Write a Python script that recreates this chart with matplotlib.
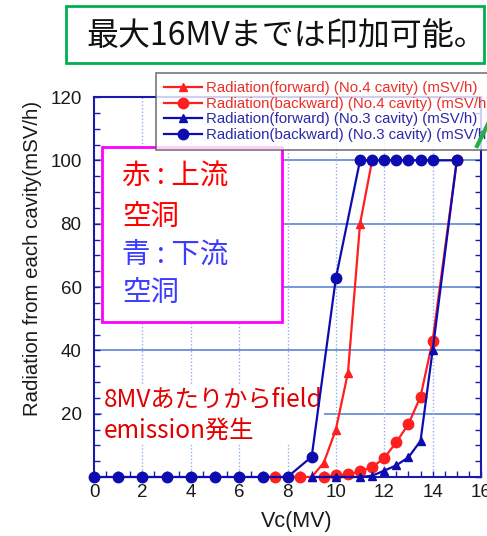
import matplotlib
matplotlib.use("Agg")
import matplotlib.pyplot as plt
from matplotlib.patches import Rectangle
from matplotlib.lines import Line2D
from matplotlib.ticker import MultipleLocator, FixedLocator

plt.rcParams['font.family'] = ['Liberation Sans', 'DejaVu Sans']
JP = ['Noto Sans CJK JP', 'DejaVu Sans']

# ---------------- data ----------------
red_fwd_x = [9, 9.5, 10, 10.5, 11, 11.5]
red_fwd_y = [0, 4.5, 15, 33, 80, 100]

red_back_x = [7.5, 8.5, 9.5, 10, 10.5, 11, 11.5, 12, 12.5, 13, 13.5, 14, 15]
red_back_y = [0, 0, 0, 0.5, 0.8, 1.8, 3.1, 6, 11, 16.7, 25.4, 43, 100]

blue_fwd_x = [9, 10, 11, 11.5, 12, 12.5, 13, 13.5, 14, 15]
blue_fwd_y = [0, 0, 0, 0.4, 2, 3.7, 6.2, 11.4, 40, 100]

blue_back_x = [0, 1, 2, 3, 4, 5, 6, 7, 8, 9, 10, 11, 11.5, 12, 12.5, 13, 13.5, 14, 15]
blue_back_y = [0, 0, 0, 0, 0, 0, 0, 0, 0, 6.4, 62.8, 100, 100, 100, 100, 100, 100, 100, 100]

labels = ["Radiation(forward) (No.4 cavity) (mSV/h)",
          "Radiation(backward) (No.4 cavity) (mSV/h)",
          "Radiation(forward) (No.3 cavity) (mSV/h)",
          "Radiation(backward) (No.3 cavity) (mSV/h)"]

x_ticks = [0, 2, 4, 6, 8, 10, 12, 14, 16]
y_ticks = [20, 40, 60, 80, 100, 120]

title_text = "最大16MVまでは印加可能。"
box_lines = ["赤 : 上流", "空洞", "青 : 下流", "空洞"]
note_text = "8MVあたりからfield\nemission発生"

# ---------------- figure ----------------
W, H = 487, 536
fig = plt.figure(figsize=(W / 100, H / 100), dpi=100)
fig.patch.set_facecolor('white')

def fx(px):
    return px / W

def fy(py):
    return 1 - py / H

ax = fig.add_axes([fx(94), fy(477), fx(481) - fx(94), fy(97) - fy(477)])

RED = '#ff1f1f'
BLUE = '#0c0cb0'

l1, = ax.plot(red_fwd_x, red_fwd_y, color=RED, lw=1.6, marker='^', ms=6, clip_on=False, zorder=3)
l2, = ax.plot(red_back_x, red_back_y, color=RED, lw=1.6, marker='o', ms=7.5, clip_on=False, zorder=3)
l3, = ax.plot(blue_fwd_x, blue_fwd_y, color=BLUE, lw=1.6, marker='^', ms=6, clip_on=False, zorder=4)
l4, = ax.plot(blue_back_x, blue_back_y, color=BLUE, lw=1.6, marker='o', ms=7.5, clip_on=False, zorder=4)

ax.set_xlim(0, 16)
ax.set_ylim(0, 120)
ax.xaxis.set_major_locator(FixedLocator(x_ticks))
ax.xaxis.set_minor_locator(MultipleLocator(0.5))
ax.yaxis.set_major_locator(FixedLocator(y_ticks))
ax.yaxis.set_minor_locator(MultipleLocator(5))

SP = '#1a1aa8'
for s in ax.spines.values():
    s.set_color(SP)
    s.set_linewidth(1.5)

ax.tick_params(axis='both', which='both', direction='in', color=SP, width=1,
               labelsize=13.5, labelcolor='#1a1a1a')
ax.tick_params(axis='y', which='both', left=True, right=True, pad=9)
ax.tick_params(axis='x', which='both', bottom=True, top=False, pad=5)
ax.tick_params(which='major', length=4)
ax.tick_params(which='minor', length=4)

# grids
for yv in [20, 40, 60, 80, 100]:
    ax.axhline(yv, color='#5f86d2', lw=1.2, zorder=0.5)
for xv in [2, 4, 6, 8, 10, 12, 14]:
    ax.axvline(xv, color='#93afe0', lw=1.0, ls=(0, (1, 1.5)), zorder=0.5)

ax.set_ylabel("Radiation from each cavity(mSV/h)", fontsize=14.7, color='#1a1a1a')
ax.yaxis.set_label_coords(-0.135, 0.575)
ax.set_xlabel("Vc(MV)", fontsize=15.5, color='#1a1a1a')
ax.xaxis.set_label_coords(0.525, -0.09)

# red note inside axes
ax.text(0.4, 19.6, note_text, fontsize=17.5, color='#e00000', family=JP,
        ha='left', va='center', linespacing=1.3, zorder=1.5,
        bbox=dict(facecolor='white', edgecolor='none', pad=1))

# legend
leg = fig.legend([l1, l2, l3, l4], labels, loc='upper left',
                 bbox_to_anchor=(fx(156), fy(73)), frameon=True, fancybox=False,
                 fontsize=10.8, handlelength=2.5, handletextpad=0.3,
                 borderpad=0.55, labelspacing=0.1, borderaxespad=0,
                 labelcolor=['#e8302a', '#e8302a', '#2a2aa8', '#2a2aa8'])
leg.get_frame().set_edgecolor('#555555')
leg.get_frame().set_linewidth(1.2)

# title box
fig.add_artist(Rectangle((fx(66), fy(63)), fx(484) - fx(66), fy(6) - fy(63),
                         transform=fig.transFigure, facecolor='white',
                         edgecolor='#00b050', lw=2, zorder=5))
fig.text(fx(86), fy(36), title_text, fontsize=23, family=JP, color='#111111',
         ha='left', va='center', zorder=6)

# magenta box
fig.add_artist(Rectangle((fx(102), fy(322)), fx(282) - fx(102), fy(147) - fy(322),
                         transform=fig.transFigure, facecolor='white',
                         edgecolor='#ff00ff', lw=2, zorder=5))
box_y = [177, 217, 255, 293]
box_c = ['#ff0000', '#ff0000', '#3c3cff', '#3c3cff']
for t, yy, cc in zip(box_lines, box_y, box_c):
    fig.text(fx(122), fy(yy), t, fontsize=20.5, family=JP, color=cc,
             ha='left', va='center', zorder=6)

# green arrow fragment
fig.add_artist(Line2D([fx(477), fx(489)], [fy(146), fy(122)], color='#22b04a',
                      lw=3, transform=fig.transFigure, zorder=7))

fig.savefig("out.png", dpi=100)
